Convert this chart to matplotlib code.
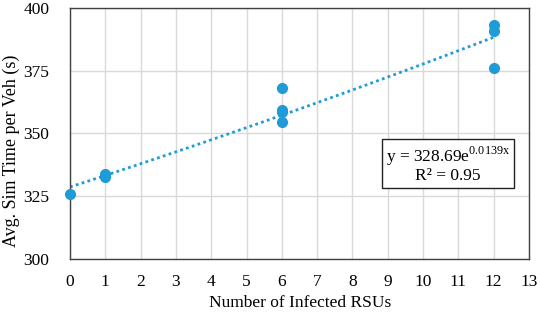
import numpy as np
import matplotlib.pyplot as plt

plt.rcParams['font.family'] = ['Liberation Serif', 'DejaVu Serif']
plt.rcParams['mathtext.fontset'] = 'custom'
plt.rcParams['mathtext.rm'] = 'Liberation Serif'

# data
infected = [0, 1, 1, 6, 6, 6, 6, 12, 12, 12]
sim_time = [326.0, 332.5, 334.0, 368.0, 359.5, 358.5, 354.6, 393.4, 390.8, 376.0]

# exponential trendline y = a * exp(b x)
a, b = 328.69, 0.0139

blue = '#1f9bd7'

fig = plt.figure(figsize=(5.4, 3.13), dpi=100)
ax = fig.add_axes([70 / 540, 1 - 259 / 313, 459 / 540, 251 / 313])

xs = np.linspace(0, 12, 100)
ax.plot(xs, a * np.exp(b * xs), linestyle=(0, (1, 1.2)), color=blue, linewidth=2, zorder=2)
ax.plot(infected, sim_time, 'o', color=blue, markersize=7, zorder=3, clip_on=False)

ax.set_xlim(0, 13)
ax.set_ylim(300, 400)
ax.set_xticks(range(0, 14))
ax.set_yticks(range(300, 401, 25))
ax.grid(True, color='#d9d9d9', linewidth=1)
ax.set_axisbelow(True)
ax.tick_params(length=0, labelsize=12.5)
ax.tick_params(axis='x', pad=11)
ax.tick_params(axis='y', pad=15)
for s in ax.spines.values():
    s.set_color('#404040')
    s.set_linewidth(1)

ax.set_xlabel('Number of Infected RSUs', fontsize=12.5, va='top')
ax.xaxis.set_label_coords(0.501, -0.143)
ax.set_ylabel('Avg. Sim Time per Veh (s)', fontsize=13)
ax.yaxis.set_label_coords(-0.11, 0.43)

ax.text(10.7, 337.6, 'y = 328.69e$^{\\mathregular{0.0139x}}$\nR² = 0.95', ha='center', va='center',
        fontsize=12.5, linespacing=1.0,
        bbox=dict(boxstyle='square,pad=0.22', facecolor='white', edgecolor='#222222', linewidth=1))

fig.savefig('out.png', dpi=100)
